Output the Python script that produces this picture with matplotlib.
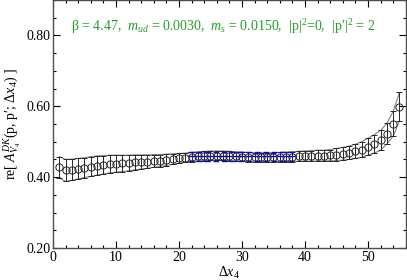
import numpy as np
import matplotlib
matplotlib.use('Agg')
import matplotlib.pyplot as plt
from matplotlib.ticker import MultipleLocator

plt.rcParams['font.family'] = ['Liberation Serif', 'DejaVu Serif']
plt.rcParams['mathtext.fontset'] = 'custom'
plt.rcParams['mathtext.rm'] = 'Liberation Serif'
plt.rcParams['mathtext.it'] = 'Liberation Serif:italic'

# data
dx4 = np.arange(1, 56)
re_A = [0.428, 0.419, 0.421, 0.424, 0.427, 0.430, 0.433, 0.435, 0.437, 0.438,
        0.439, 0.440, 0.442, 0.443, 0.444, 0.446, 0.447, 0.449, 0.451, 0.453,
        0.455, 0.457, 0.459, 0.460, 0.461, 0.461, 0.461, 0.460, 0.459, 0.458,
        0.457, 0.456, 0.456, 0.456, 0.456, 0.457, 0.457, 0.458, 0.459, 0.460,
        0.460, 0.461, 0.461, 0.462, 0.464, 0.466, 0.469, 0.473, 0.478, 0.486,
        0.494, 0.504, 0.523, 0.551, 0.599]
err = [0.030, 0.031, 0.030, 0.029, 0.028, 0.028, 0.027, 0.026, 0.025, 0.024,
       0.023, 0.022, 0.021, 0.020, 0.019, 0.018, 0.017, 0.016, 0.015, 0.014,
       0.013, 0.013, 0.013, 0.013, 0.013, 0.013, 0.013, 0.013, 0.013, 0.013,
       0.013, 0.013, 0.013, 0.013, 0.013, 0.013, 0.014, 0.014, 0.014, 0.014,
       0.015, 0.015, 0.015, 0.016, 0.017, 0.018, 0.019, 0.020, 0.022, 0.024,
       0.026, 0.028, 0.029, 0.035, 0.040]
fit_range = [21.5, 38.5]
fit_val = 0.459
fit_err = 0.013

re_A = np.array(re_A)
err = np.array(err)

fig = plt.figure(figsize=(4.07, 2.80), dpi=100)
ax = fig.add_axes([0.130, 0.114, 0.867, 0.886])

# envelope of the error bars
ax.plot(dx4, re_A + err, color='0.5', lw=0.8)
ax.plot(dx4, re_A - err, color='0.5', lw=0.8)

ax.errorbar(dx4, re_A, yerr=err, fmt='o', mfc='none', mec='0.15', ms=5.2,
            mew=0.7, ecolor='0.15', elinewidth=0.7, capsize=2.0, capthick=0.7)

# fit band
ax.plot(fit_range, [fit_val, fit_val], color='blue', lw=1.0)
ax.plot(fit_range, [fit_val + fit_err] * 2, color='blue', lw=1.0, ls=(0, (4, 2)))
ax.plot(fit_range, [fit_val - fit_err] * 2, color='blue', lw=1.0, ls=(0, (4, 2)))

ax.set_xlim(0, 56)
ax.set_ylim(0.2, 0.9)
ax.set_yticks([0.2, 0.4, 0.6, 0.8])
ax.set_yticklabels(['0.20', '0.40', '0.60', '0.80'])
ax.set_xticks([0, 10, 20, 30, 40, 50])
ax.xaxis.set_minor_locator(MultipleLocator(2))
ax.yaxis.set_minor_locator(MultipleLocator(0.05))
ax.tick_params(which='both', direction='in', top=True, right=True,
               labelsize=10, width=0.8, pad=2)
ax.tick_params(which='major', length=5)
ax.tick_params(which='minor', length=2.5)
for s in ax.spines.values():
    s.set_linewidth(1.0)
    s.set_color('0.3')

ax.set_xlabel(r'$\Delta x_4$', fontsize=10, labelpad=1)
ax.set_ylabel("re[ $A_{V_4}^{DK}$(p, p\u2032; $\\Delta x_4$) ]", fontsize=10, labelpad=2)

ax.text(2.8, 0.812,
        "\u03b2 = 4.47,  $m_{ud}$ = 0.0030,  $m_s$ = 0.0150,  |p|$^2$=0,  |p\u2032|$^2$ = 2",
        color='#22a022', fontsize=10)

plt.savefig('out.png', dpi=100)
